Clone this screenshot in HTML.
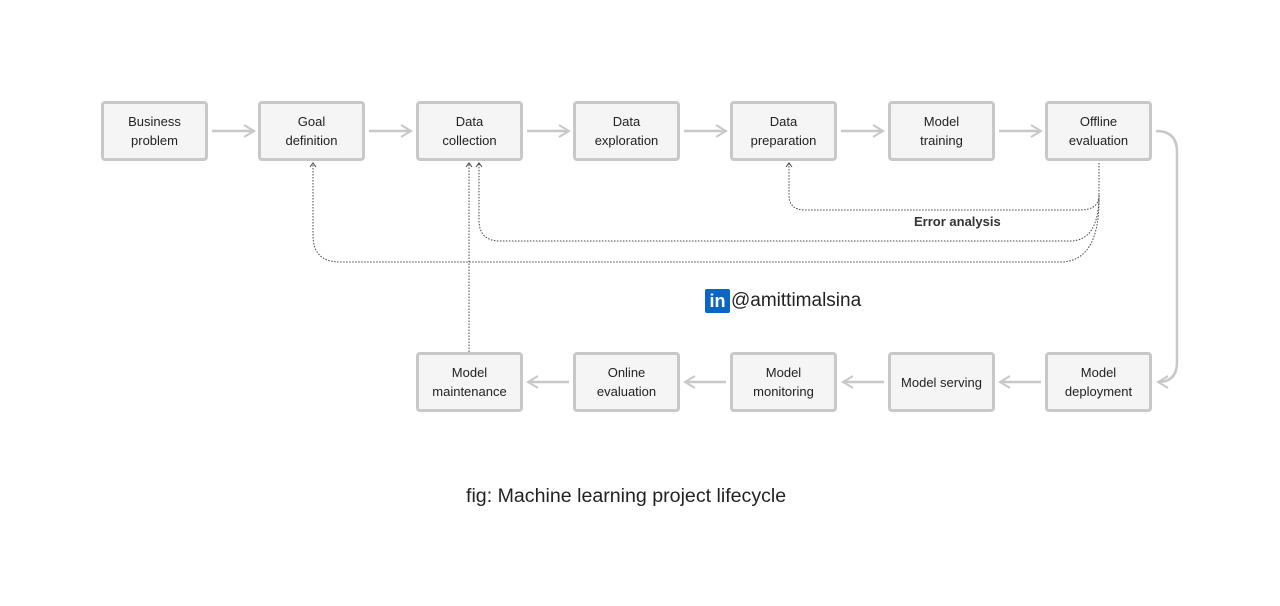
<!DOCTYPE html>
<html><head><meta charset="utf-8"><style>
body{margin:0;width:1280px;height:606px;background:#fff;position:relative;font-family:"Liberation Sans",sans-serif;overflow:hidden}
.b{position:absolute;width:101px;height:54px;border:3px solid #c8c8c8;border-radius:4px;background:#f5f5f5;display:flex;align-items:center;justify-content:center;text-align:center;font-size:13px;line-height:19px;color:#222}
svg{position:absolute;left:0;top:0}
</style></head><body>
<svg width="1280" height="606">
<defs><marker id="a" markerWidth="14" markerHeight="14" refX="12" refY="7" orient="auto" markerUnits="userSpaceOnUse"><path d="M2,1 L12,7 L2,13" fill="none" stroke="#c8c8c8" stroke-width="2"/></marker>
<marker id="d" markerWidth="8" markerHeight="8" refX="5" refY="4" orient="auto" markerUnits="userSpaceOnUse"><path d="M1,1 L5,4 L1,7" fill="none" stroke="#444" stroke-width="1"/></marker></defs>
<g stroke="#c8c8c8" stroke-width="2.5" fill="none">
<line x1="212" y1="131" x2="254" y2="131" marker-end="url(#a)"/>
<line x1="369" y1="131" x2="411" y2="131" marker-end="url(#a)"/>
<line x1="527" y1="131" x2="569" y2="131" marker-end="url(#a)"/>
<line x1="684" y1="131" x2="726" y2="131" marker-end="url(#a)"/>
<line x1="841" y1="131" x2="883" y2="131" marker-end="url(#a)"/>
<line x1="999" y1="131" x2="1041" y2="131" marker-end="url(#a)"/>
<path d="M1156,131 Q1177,131 1177,152 L1177,362 Q1177,382 1158,382" marker-end="url(#a)"/>
<line x1="1041" y1="382" x2="1000" y2="382" marker-end="url(#a)"/>
<line x1="884" y1="382" x2="843" y2="382" marker-end="url(#a)"/>
<line x1="726" y1="382" x2="685" y2="382" marker-end="url(#a)"/>
<line x1="569" y1="382" x2="528" y2="382" marker-end="url(#a)"/>
</g>
<g stroke="#444" stroke-width="1" stroke-dasharray="1.5,1.5" fill="none">
<path d="M1099,163 L1099,195 Q1099,210 1080,210 L805,210 Q789,210 789,195 L789,163" marker-end="url(#d)"/>
<path d="M1099,195 Q1099,241 1070,241 L500,241 Q479,241 479,220 L479,163" marker-end="url(#d)"/>
<path d="M1099,200 Q1099,262 1060,262 L340,262 Q313,262 313,235 L313,163" marker-end="url(#d)"/>
<path d="M469,352 L469,163" marker-end="url(#d)"/>
</g>
</svg>
<div class="b" style="left:101px;top:101px">Business<br>problem</div>
<div class="b" style="left:258px;top:101px">Goal<br>definition</div>
<div class="b" style="left:416px;top:101px">Data<br>collection</div>
<div class="b" style="left:573px;top:101px">Data<br>exploration</div>
<div class="b" style="left:730px;top:101px">Data<br>preparation</div>
<div class="b" style="left:888px;top:101px">Model<br>training</div>
<div class="b" style="left:1045px;top:101px">Offline<br>evaluation</div>
<div class="b" style="left:416px;top:352px">Model<br>maintenance</div>
<div class="b" style="left:573px;top:352px">Online<br>evaluation</div>
<div class="b" style="left:730px;top:352px">Model<br>monitoring</div>
<div class="b" style="left:888px;top:352px">Model serving</div>
<div class="b" style="left:1045px;top:352px">Model<br>deployment</div>
<div style="position:absolute;left:914px;top:214px;font-size:13px;font-weight:bold;color:#333">Error analysis</div>
<div style="position:absolute;left:705px;top:289px;width:25px;height:24px;background:#0a66c2;border-radius:2px;color:#fff;font-weight:bold;font-size:18px;line-height:25px;text-align:center">in</div>
<div style="position:absolute;left:731px;top:289px;font-size:19px;line-height:24px;color:#222">@amittimalsina</div>
<div style="position:absolute;left:466px;top:484px;font-size:19.6px;line-height:24px;color:#222">fig: Machine learning project lifecycle</div>
</body></html>
